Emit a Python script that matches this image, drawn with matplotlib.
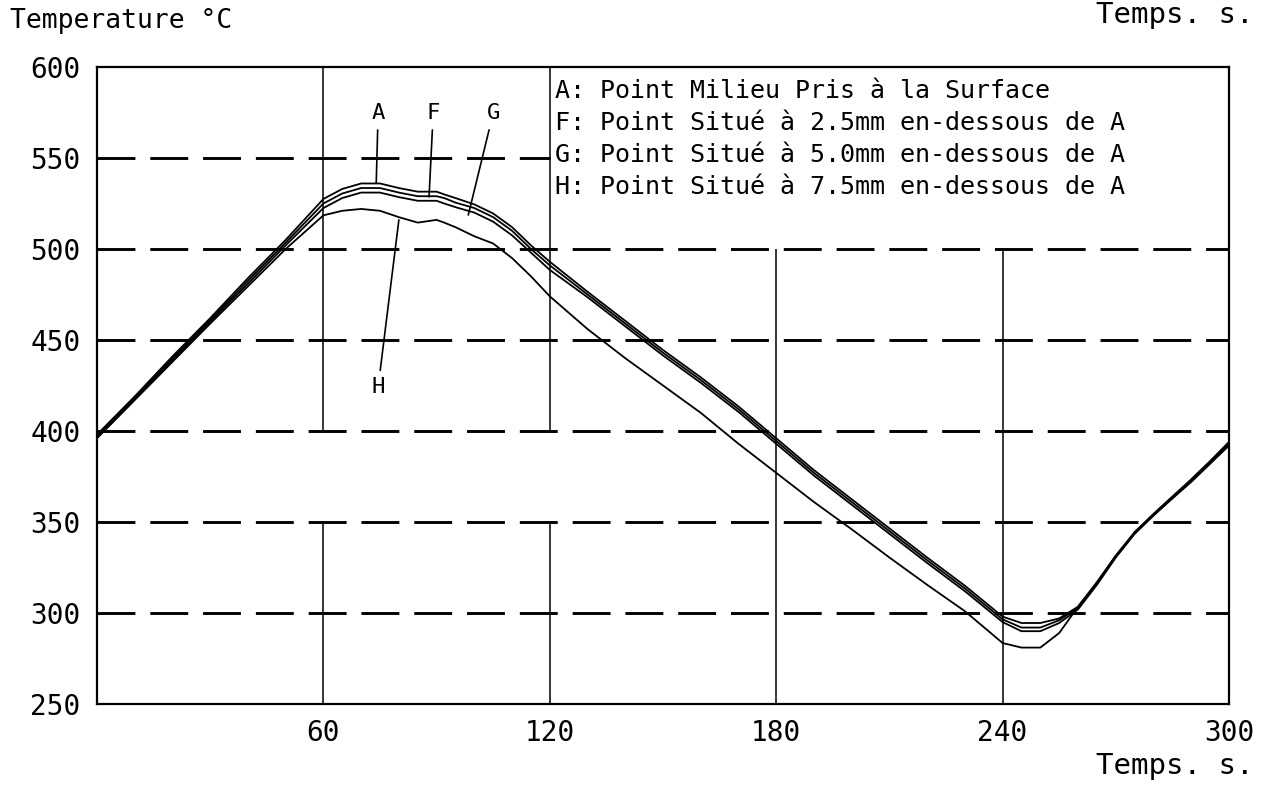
import matplotlib
matplotlib.use("Agg")
import matplotlib.pyplot as plt

plt.rcParams['font.family'] = ['DejaVu Sans Mono', 'DejaVu Sans']

# temps (s) et temperatures (deg C)
temps = [0, 10, 20, 30, 40, 50, 60,
         65, 70, 75, 80, 85, 90, 92, 95, 100, 105, 110, 115, 120,
         130, 140, 150, 160, 170, 180, 190, 200, 210, 220, 230, 240,
         245, 250, 255,
         260, 265, 270, 275, 280, 285, 290, 295, 300]

temp_A = [398, 419, 441, 462, 484, 505, 527.5,
          533, 536, 536, 533.5, 531.5, 531.5, 530, 528, 524.5, 519.5, 512, 502, 493,
          476.5, 460.5, 444.5, 429.5, 413.5, 396, 378.5, 362.5, 346.5, 330.5, 315, 298,
          294.5, 294.5, 297,
          303.5, 316.5, 331.5, 344.5, 354.5, 364, 373.5, 383.5, 394]
temp_F = [397, 418, 440, 461, 482.5, 503.5, 525,
          530.5, 533.5, 533.5, 531, 529, 529, 528, 525.5, 522.5, 517.5, 510, 500, 491,
          475, 459, 443, 428, 412, 394.5, 377, 361, 345, 329, 313.5, 296.5,
          292, 292, 296,
          303, 316, 331, 344, 354, 363.5, 373, 383, 393]
temp_G = [396.5, 417.5, 439, 460, 481, 502, 522.5,
          528, 531, 531, 528.5, 526.5, 526.5, 525, 523, 520, 515, 507.5, 498, 488.5,
          473.5, 457.5, 441.5, 426.5, 410.5, 393, 375.5, 359.5, 343.5, 327.5, 312, 295,
          290, 290, 294.5,
          302, 315.5, 330.5, 343.5, 353.5, 363, 372.5, 382.5, 392.5]
temp_H = [396, 417, 438, 459, 479.5, 500, 518.5,
          521, 522, 521, 517.5, 514.5, 516, 514.5, 512, 507, 503, 495, 485, 474,
          456, 440, 425, 410, 393, 377, 361, 346, 330.5, 315.5, 301, 283.5,
          281, 281, 289,
          303.5, 317, 331.5, 344, 354, 363, 372, 382, 392]

courbes = ['A', 'F', 'G', 'H']
legende = ['A: Point Milieu Pris à la Surface',
           'F: Point Situé à 2.5mm en-dessous de A',
           'G: Point Situé à 5.0mm en-dessous de A',
           'H: Point Situé à 7.5mm en-dessous de A']

xticks = [60, 120, 180, 240, 300]
yticks = [250, 300, 350, 400, 450, 500, 550, 600]
hgrid = [550, 500, 450, 400, 350, 300]

# etiquettes des courbes: position du texte et point vise sur la courbe
lab_pos = [(74.5, 574.7), (89.1, 574.7), (105, 574.7), (74.5, 424)]
lab_pt = [(74, 536.3), (88, 528.6), (98.4, 518.7), (80, 516)]

fig = plt.figure(figsize=(12.8, 7.85), dpi=100)
ax = fig.add_axes([97/1280, 81/785, 1132/1280, 637/785])
ax.set_xlim(0, 300)
ax.set_ylim(250, 600)

# quadrillage: tirets horizontaux, traits verticaux partiels
for y in hgrid:
    xmax = 120 if y == 550 else 300
    ax.hlines(y, 0, xmax, colors='black', linewidth=2.1,
              linestyles=[(0, (13.0, 5.1))], zorder=1)
ax.vlines([60, 120], 400, 600, colors='black', linewidth=1.1, zorder=1)
ax.vlines([60, 120], 250, 350, colors='black', linewidth=1.1, zorder=1)
ax.vlines([180, 240], 250, 500, colors='black', linewidth=1.1, zorder=1)

for serie in [temp_A, temp_F, temp_G, temp_H]:
    ax.plot(temps, serie, color='black', linewidth=1.3, zorder=3)

for nom, pos, pt in zip(courbes, lab_pos, lab_pt):
    ax.annotate(nom, xy=pt, xytext=pos, fontsize=16, ha='center', va='center',
                arrowprops=dict(arrowstyle='-', color='black', lw=1.2,
                                shrinkA=3, shrinkB=0))

for i, txt in enumerate(legende):
    ax.text(121.5, 587 - i * 17.6, txt, fontsize=18, ha='left', va='center')

for s in ax.spines.values():
    s.set_linewidth(1.6)

ax.set_xticks(xticks)
ax.set_xticklabels([str(v) for v in xticks])
ax.set_yticks(yticks)
ax.set_yticklabels([str(v) for v in yticks])
ax.tick_params(length=0, labelsize=20)
ax.tick_params(axis='y', pad=12)
ax.tick_params(axis='x', pad=11)

fig.text(10/1280, 1 - 8/785, 'Temperature °C', fontsize=19, ha='left', va='top')
fig.text(1253/1280, 1 - 766/785, 'Temps. s.', fontsize=21, ha='right', va='center')
fig.text(1253/1280, 1 - 1/785, 'Temps. s.', fontsize=21, ha='right', va='top')

fig.savefig('out.png', dpi=100, facecolor='white')
